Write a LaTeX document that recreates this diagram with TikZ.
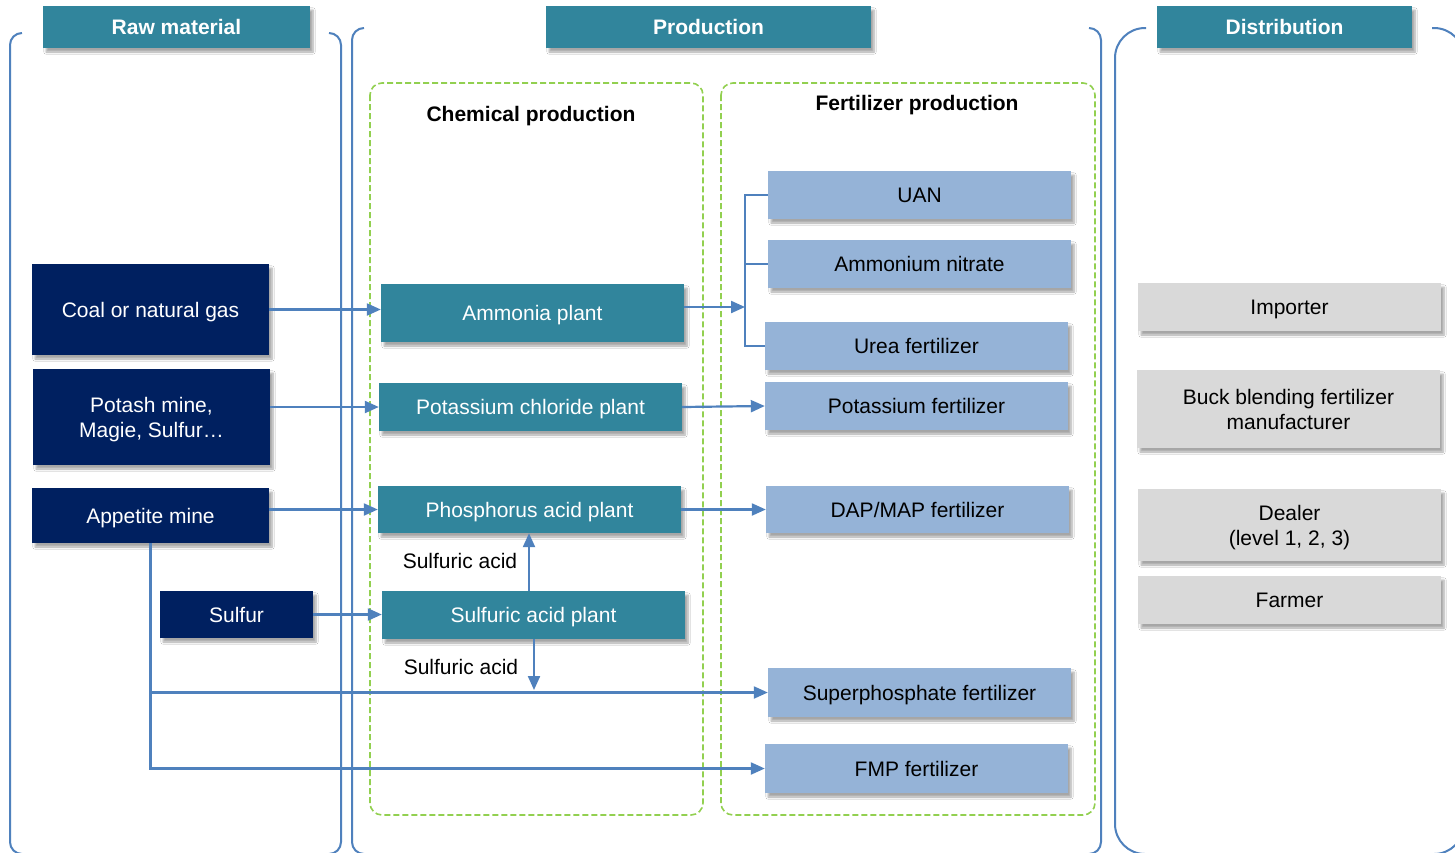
\documentclass[tikz,border=0pt]{standalone}
\usepackage{fontspec}
\setmainfont{Liberation Sans}
\usetikzlibrary{arrows.meta,shadows.blur}
\definecolor{hdr}{HTML}{31859C}
\definecolor{navyc}{HTML}{002060}
\definecolor{fertc}{HTML}{95B3D7}
\definecolor{distc}{HTML}{D9D9D9}
\definecolor{connc}{HTML}{4F81BD}
\definecolor{grn}{HTML}{92D050}
\tikzset{
  shd/.style={blur shadow={shadow xshift=3pt,shadow yshift=-4pt,shadow blur steps=6,shadow opacity=35}},
  basebox/.style={shd,inner sep=0pt,align=center,text depth=0pt,font=\fontsize{21}{25}\selectfont},
  hdrbox/.style={basebox,fill=hdr,text=white,font=\fontsize{21}{25}\selectfont\bfseries},
  navybox/.style={basebox,fill=navyc,text=white},
  plantbox/.style={basebox,fill=hdr,text=white},
  fertbox/.style={basebox,fill=fertc,text=black},
  distbox/.style={basebox,fill=distc,text=black},
  conn/.style={draw=connc,line width=2.2pt},
  arr/.style={conn,-{Triangle[length=14pt,width=12pt]}},
  brk/.style={draw=connc,line width=2pt},
  grp/.style={draw=grn,line width=1.6pt,dash pattern=on 6pt off 3pt,rounded corners=12pt},
  lbl/.style={inner sep=0pt,font=\fontsize{21}{25}\selectfont},
  ttl/.style={inner sep=0pt,font=\fontsize{21}{25}\selectfont\bfseries},
}
\begin{document}
\begin{tikzpicture}[x=1pt,y=-1pt]
\useasboundingbox (0,0) rectangle (1455,852);
\fill[white] (0,0) rectangle (1455,852);
\begin{scope}
\clip (0,0) rectangle (1455,852);
% brackets
\draw[brk,rounded corners=12pt] (22,33) -- (10,33) -- (10,854) -- (22,854);
\draw[brk,rounded corners=12pt] (329,33) -- (341,33) -- (341,854) -- (329,854);
\draw[brk,rounded corners=12pt] (364,28) -- (352,28) -- (352,854) -- (364,854);
\draw[brk,rounded corners=12pt] (1089,28) -- (1101,28) -- (1101,854) -- (1089,854);
\draw[brk,rounded corners=30pt] (1146,28) -- (1115,28) -- (1115,854) -- (1146,854);
\draw[brk,rounded corners=30pt] (1432,28) -- (1464,28) -- (1464,854) -- (1432,854);
\end{scope}
% groups
\draw[grp] (370,83) rectangle (703,815);
\draw[grp] (721,83) rectangle (1095,815);
\node[ttl] (chem) at (531,116) {Chemical production};
\node[ttl] (fertt) at (917,105) {Fertilizer production};
% headers
\node[hdrbox,minimum width=267pt,minimum height=42pt] (h1) at (176.5,27) {Raw material};
\node[hdrbox,minimum width=325pt,minimum height=42pt] (h2) at (708.5,27) {Production};
\node[hdrbox,minimum width=255pt,minimum height=42pt] (h3) at (1284.5,27) {Distribution};
% raw material
\node[navybox,minimum width=237pt,minimum height=91pt] (coal) at (150.5,309.5) {Coal or natural gas};
\node[navybox,minimum width=237pt,minimum height=96pt] (potash) at (151.5,417) {Potash mine,\\Magie, Sulfur…};
\node[navybox,minimum width=237pt,minimum height=55pt] (apat) at (150.5,515.5) {Appetite mine};
\node[navybox,minimum width=153pt,minimum height=47pt] (sulfur) at (236.5,614.5) {Sulfur};
% plants
\node[plantbox,minimum width=303pt,minimum height=58pt] (ammonia) at (532.5,313) {Ammonia plant};
\node[plantbox,minimum width=303pt,minimum height=48pt] (kcl) at (530.5,407) {Potassium chloride plant};
\node[plantbox,minimum width=303pt,minimum height=47pt] (phos) at (529.5,509.5) {Phosphorus acid plant};
\node[plantbox,minimum width=303pt,minimum height=48pt] (sulf) at (533.5,615) {Sulfuric acid plant};
% fertilizers
\node[fertbox,minimum width=303pt,minimum height=48pt] (uan) at (919.5,195) {UAN};
\node[fertbox,minimum width=303pt,minimum height=48pt] (an) at (919.5,264) {Ammonium nitrate};
\node[fertbox,minimum width=303pt,minimum height=48pt] (urea) at (916.5,346) {Urea fertilizer};
\node[fertbox,minimum width=303pt,minimum height=48pt] (potf) at (916.5,406) {Potassium fertilizer};
\node[fertbox,minimum width=303pt,minimum height=47pt] (dap) at (917.5,509.5) {DAP/MAP fertilizer};
\node[fertbox,minimum width=303pt,minimum height=49pt] (super) at (919.5,692.5) {Superphosphate fertilizer};
\node[fertbox,minimum width=303pt,minimum height=49pt] (fmp) at (916.5,768.5) {FMP fertilizer};
% distribution
\node[distbox,minimum width=303pt,minimum height=48pt] (imp) at (1289.5,307) {Importer};
\node[distbox,minimum width=303pt,minimum height=78pt] (buck) at (1288.5,409) {Buck blending fertilizer\\manufacturer};
\node[distbox,minimum width=303pt,minimum height=72pt] (dealer) at (1289.5,525) {Dealer\\(level 1, 2, 3)};
\node[distbox,minimum width=303pt,minimum height=48pt] (farmer) at (1289.5,600) {Farmer};
% connectors
\draw[arr] (coal.east) -- (coal.east -| ammonia.west);
\draw[arr] (potash.east |- kcl.west) -- (kcl.west);
\draw[arr] (apat.east |- phos.west) -- (phos.west);
\draw[arr] (sulfur.east) -- (sulfur.east -| sulf.west);
\coordinate (br) at (745,307);
\draw[arr] (ammonia.east |- br) -- (br);
\draw[conn] (uan.west) -- (uan.west -| br) |- (urea.west);
\draw[conn] (an.west) -- (an.west -| br);
\draw[arr] (kcl.east) -- (potf.west);
\draw[arr] (phos.east |- dap.west) -- (dap.west);
\draw[arr] ([xshift=-4.5pt]sulf.north) -- ([xshift=-4.5pt]sulf.north |- phos.south);
\coordinate (sdown) at (534,690);
\draw[arr] (sulf.south -| sdown) -- (sdown);
\node[lbl] (sa1) at (460,561) {Sulfuric acid};
\node[lbl] (sa2) at (461,667) {Sulfuric acid};
\draw[arr] (apat.south) |- (super.west);
\draw[arr] (apat.south) |- (fmp.west);
\end{tikzpicture}
\end{document}
